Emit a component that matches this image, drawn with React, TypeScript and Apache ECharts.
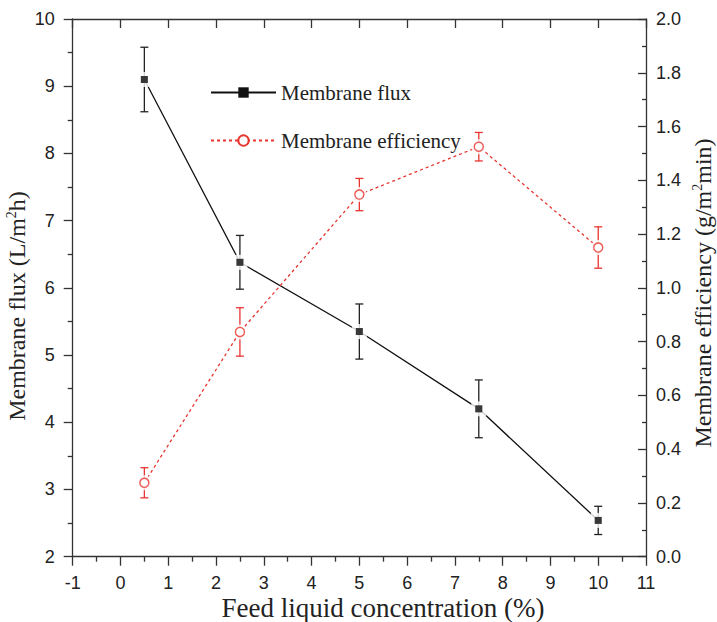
import React, { useEffect, useRef } from "react";
import * as echarts from "echarts";

const xValues = [0.5, 2.5, 5, 7.5, 10];
const fluxValues = [9.1, 6.38, 5.35, 4.2, 2.54];
const fluxErrors = [0.48, 0.4, 0.41, 0.43, 0.21];
const effValues = [0.275, 0.836, 1.347, 1.525, 1.15];
const effErrors = [0.056, 0.09, 0.06, 0.053, 0.077];

const seriesNames = ["Membrane flux", "Membrane efficiency"];
const xTitle = "Feed liquid concentration (%)";

const BLACK = "#111";
const RED = "#e8352f";
const AXIS = "#333";
const SERIF = "Liberation Serif";
const SANS = "Liberation Sans";

function errorRender(color: string) {
  return (params: any, api: any) => {
    const x = api.value(0);
    const y = api.value(1);
    const e = api.value(2);
    const top = api.coord([x, y + e]);
    const bot = api.coord([x, y - e]);
    const hw = 4;
    const st = { stroke: color, lineWidth: 1.3 };
    return {
      type: "group",
      children: [
        { type: "line", shape: { x1: top[0], y1: top[1], x2: bot[0], y2: bot[1] }, style: st },
        { type: "line", shape: { x1: top[0] - hw, y1: top[1], x2: top[0] + hw, y2: top[1] }, style: st },
        { type: "line", shape: { x1: bot[0] - hw, y1: bot[1], x2: bot[0] + hw, y2: bot[1] }, style: st },
      ],
    };
  };
}

function richFor(size: number) {
  return {
    a: { fontSize: size, fontFamily: SERIF, fill: "#222", lineHeight: size + 1 },
    s: { fontSize: Math.round(size * 0.6), fontFamily: SERIF, fill: "#222", verticalAlign: "top", lineHeight: Math.round(size * 0.6) },
  };
}

export default function App() {
  const ref = useRef<HTMLDivElement>(null);
  useEffect(() => {
    document.body.style.margin = "0";
    const chart = echarts.init(ref.current!, null, { renderer: "svg" });
    const fluxPts = xValues.map((x, i) => [x, fluxValues[i]]);
    const effPts = xValues.map((x, i) => [x, effValues[i]]);
    const fluxErr = xValues.map((x, i) => [x, fluxValues[i], fluxErrors[i]]);
    const effErr = xValues.map((x, i) => [x, effValues[i], effErrors[i]]);
    const axisLabel = { fontFamily: SANS, fontSize: 18, color: "#222" };
    const line = { onZero: false, lineStyle: { color: AXIS, width: 1.3 } };
    chart.setOption({
      animation: false,
      backgroundColor: "#fff",
      grid: { left: 72.7, right: 71, top: 19, bottom: 65.3, containLabel: false },
      legend: {
        data: seriesNames,
        orient: "vertical",
        left: 210,
        top: 82,
        padding: 0,
        itemWidth: 65,
        itemHeight: 13,
        itemGap: 27,
        textStyle: { fontFamily: SERIF, fontSize: 21, color: "#222", lineHeight: 21, padding: [0, 0, 0, 0] },
      },
      xAxis: [
        {
          type: "value",
          min: -1,
          max: 11,
          interval: 1,
          position: "bottom",
          axisLine: line,
          axisTick: { inside: false, length: 9, lineStyle: { color: AXIS, width: 1.3 } },
          minorTick: { show: true, splitNumber: 2, length: 5, lineStyle: { color: AXIS, width: 1.3 } },
          axisLabel: { ...axisLabel, margin: 17 },
          splitLine: { show: false },
        },
        {
          type: "value",
          min: -1,
          max: 11,
          interval: 1,
          position: "top",
          axisLine: line,
          axisTick: { inside: true, length: 9, lineStyle: { color: AXIS, width: 1.3 } },
          axisLabel: { show: false },
          splitLine: { show: false },
        },
      ],
      yAxis: [
        {
          type: "value",
          min: 2,
          max: 10,
          interval: 1,
          position: "left",
          axisLine: { ...line, show: true },
          axisTick: { show: true, inside: false, length: 9, lineStyle: { color: AXIS, width: 1.3 } },
          minorTick: { show: true, splitNumber: 2, length: 5, lineStyle: { color: AXIS, width: 1.3 } },
          axisLabel: { ...axisLabel, margin: 18 },
          splitLine: { show: false },
        },
        {
          type: "value",
          min: 0,
          max: 2,
          interval: 0.2,
          position: "right",
          axisLine: { ...line, show: true },
          axisTick: { show: true, inside: true, length: 8, lineStyle: { color: AXIS, width: 1.3 } },
          minorTick: { show: true, splitNumber: 2, length: 4, lineStyle: { color: AXIS, width: 1.3 } },
          axisLabel: { ...axisLabel, margin: 10, formatter: (v: number) => v.toFixed(1) },
          splitLine: { show: false },
        },
      ],
      series: [
        {
          name: seriesNames[0],
          type: "line",
          data: fluxPts,
          xAxisIndex: 0,
          yAxisIndex: 0,
          symbol: "rect",
          symbolSize: 7,
          itemStyle: { color: BLACK },
          lineStyle: { color: BLACK, width: 1.3 },
          z: 1,
        },
        {
          name: seriesNames[1],
          type: "line",
          data: effPts,
          xAxisIndex: 0,
          yAxisIndex: 1,
          symbol: "emptyCircle",
          symbolSize: 9,
          itemStyle: { color: RED },
          lineStyle: { color: RED, width: 1.3, type: [3, 3] },
          z: 1,
        },
        {
          name: "fluxErr",
          type: "custom",
          xAxisIndex: 0,
          yAxisIndex: 0,
          data: fluxErr,
          renderItem: errorRender("#222"),
          silent: true,
          z: 2,
        },
        {
          name: "effErr",
          type: "custom",
          xAxisIndex: 0,
          yAxisIndex: 1,
          data: effErr,
          renderItem: errorRender(RED),
          silent: true,
          z: 2,
        },
        {
          name: "fluxHalo",
          type: "scatter",
          xAxisIndex: 0,
          yAxisIndex: 0,
          data: fluxPts,
          symbol: "rect",
          symbolSize: 15,
          itemStyle: { color: "#fff" },
          silent: true,
          z: 3,
        },
        {
          name: "effHalo",
          type: "scatter",
          xAxisIndex: 0,
          yAxisIndex: 1,
          data: effPts,
          symbol: "circle",
          symbolSize: 15,
          itemStyle: { color: "#fff" },
          silent: true,
          z: 3,
        },
        {
          name: "fluxMark",
          type: "scatter",
          xAxisIndex: 0,
          yAxisIndex: 0,
          data: fluxPts,
          symbol: "rect",
          symbolSize: 7,
          itemStyle: { color: BLACK },
          silent: true,
          z: 4,
        },
        {
          name: "effMark",
          type: "scatter",
          xAxisIndex: 0,
          yAxisIndex: 1,
          data: effPts,
          symbol: "circle",
          symbolSize: 9,
          itemStyle: { color: "#fff", borderColor: RED, borderWidth: 1.3 },
          silent: true,
          z: 4,
        },
      ],
      graphic: [
        {
          type: "text",
          x: 383,
          y: 608,
          style: {
            text: xTitle,
            fontSize: 27,
            fontFamily: SERIF,
            fill: "#222",
            align: "center",
            verticalAlign: "middle",
          },
        },
        {
          type: "text",
          x: 17,
          y: 306,
          rotation: Math.PI / 2,
          style: {
            text: "{a|Membrane flux (L/m}{s|2}{a|h)}",
            rich: richFor(24),
            align: "center",
            verticalAlign: "middle",
          },
        },
        {
          type: "text",
          x: 703,
          y: 293,
          rotation: Math.PI / 2,
          style: {
            text: "{a|Membrane efficiency (g/m}{s|2}{a|min)}",
            rich: richFor(24),
            align: "center",
            verticalAlign: "middle",
          },
        },
      ],
    });
    return () => chart.dispose();
  }, []);
  return (
    <div
      ref={ref}
      style={{ position: "fixed", left: 0, top: 0, width: 717, height: 622 }}
    />
  );
}
